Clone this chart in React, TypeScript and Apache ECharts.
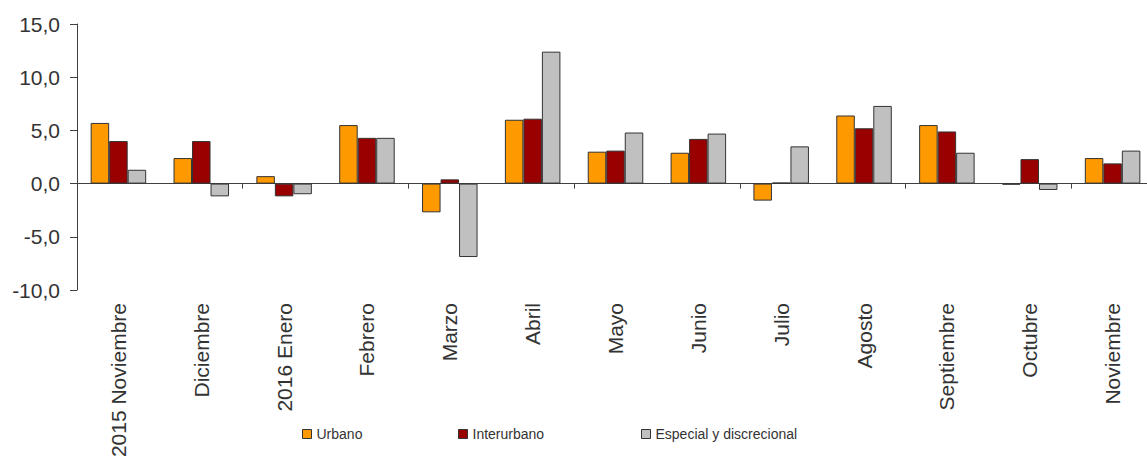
import React, { useEffect, useRef } from "react";
import * as echarts from "echarts";

const categories = [
  "2015 Noviembre", "Diciembre", "2016 Enero", "Febrero", "Marzo", "Abril", "Mayo",
  "Junio", "Julio", "Agosto", "Septiembre", "Octubre", "Noviembre",
];
const urbano = [5.7, 2.4, 0.7, 5.5, -2.7, 6.0, 3.0, 2.9, -1.6, 6.4, 5.5, -0.1, 2.4];
const interurbano = [4.0, 4.0, -1.2, 4.3, 0.4, 6.1, 3.1, 4.2, 0.1, 5.2, 4.9, 2.3, 1.9];
const especial = [1.3, -1.2, -1.0, 4.3, -6.9, 12.4, 4.8, 4.7, 3.5, 7.3, 2.9, -0.6, 3.1];
const seriesNames = ["Urbano", "Interurbano", "Especial y discrecional"];
const seriesColors = ["#FF9900", "#990000", "#C0C0C0"];

const FONT = "'Liberation Sans', Arial, sans-serif";
const TEXT = "#333333";

export default function App() {
  const ref = useRef<HTMLDivElement>(null);
  useEffect(() => {
    if (!ref.current) return;
    const chart = echarts.init(ref.current, undefined, { renderer: "svg" });
    const dataSets = [urbano, interurbano, especial];
    const legendLefts = [302, 458, 641];
    chart.setOption({
      animation: false,
      textStyle: { fontFamily: FONT },
      grid: {
        left: 77,
        top: 24,
        width: 1077,
        height: 266,
        containLabel: false,
        outerBoundsMode: "none",
      },
      legend: seriesNames.map((n, i) => ({
        data: [n],
        left: legendLefts[i],
        top: 425,
        padding: 0,
        itemWidth: 9,
        itemHeight: 9,
        itemGap: 0,
        icon: "rect",
        itemStyle: { borderColor: "#333", borderWidth: 1 },
        textStyle: { fontSize: 14, color: TEXT, fontFamily: FONT, lineHeight: 18 },
      })),
      xAxis: [
        {
          type: "category",
          data: categories,
          position: "bottom",
          axisLine: { onZero: true, lineStyle: { color: "#404040", width: 1 } },
          axisTick: { show: true, length: 5, lineStyle: { color: "#404040" } },
          axisLabel: { show: false },
          splitLine: { show: false },
        },
        {
          type: "category",
          data: categories,
          position: "bottom",
          axisLine: { show: false, onZero: false },
          axisTick: { show: false },
          axisLabel: {
            rotate: 90,
            margin: 13,
            fontSize: 21,
            color: TEXT,
            fontFamily: FONT,
            interval: 0,
          },
          splitLine: { show: false },
        },
      ],
      yAxis: {
        type: "value",
        min: -10,
        max: 15,
        interval: 5,
        axisLine: { show: true, lineStyle: { color: "#404040", width: 1 } },
        axisTick: { show: true, length: 7, lineStyle: { color: "#404040" } },
        splitLine: { show: false },
        axisLabel: {
          margin: 17,
          fontSize: 21,
          color: TEXT,
          fontFamily: FONT,
          formatter: (v: number) => v.toFixed(1).replace(".", ","),
        },
      },
      series: seriesNames.map((n, i) => ({
        name: n,
        type: "bar",
        xAxisIndex: 0,
        data: dataSets[i],
        barGap: "0%",
        barCategoryGap: "33%",
        itemStyle: {
          color: seriesColors[i],
          borderColor: "#333333",
          borderWidth: 1,
        },
      })),
    });
    return () => chart.dispose();
  }, []);
  return (
    <div
      ref={ref}
      style={{ position: "absolute", left: 0, top: 0, width: 1147, height: 457 }}
    />
  );
}
